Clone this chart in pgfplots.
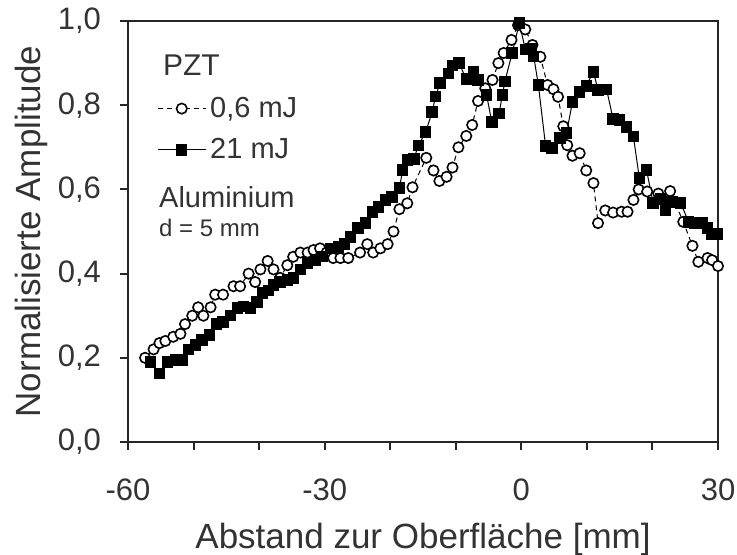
\documentclass[border=0pt]{standalone}
\usepackage{fontspec}
\setmainfont{Liberation Sans}
\usepackage{pgfplots}
\pgfplotsset{compat=1.18}
\begin{document}
\begin{tikzpicture}
\useasboundingbox (-64pt,-56pt) rectangle (304.5pt,221pt);
\begin{axis}[
  at={(0pt,0pt)}, anchor=south west,
  width=295pt, height=210.5pt, scale only axis,
  xmin=-60, xmax=30, ymin=0, ymax=1,
  xtick={-60,-30,0,30},
  xticklabels={-60,-30,0,30},
  minor xtick={-50,-40,-20,-10,10,20},
  ytick={0,0.2,0.4,0.6,0.8,1.0},
  yticklabels={{0,0},{0,2},{0,4},{0,6},{0,8},{1,0}},
  tick align=outside, tick pos=left,
  major tick length=4pt, minor tick length=4pt,
  axis line style={line width=1.3pt, black!85},
  every tick/.style={line width=1pt, black!85},
  ticklabel style={font=\fontsize{15.5}{18}\selectfont, text=black!80},
  xticklabel style={yshift=-11pt},
  yticklabel style={xshift=-6pt},
  xlabel={Abstand zur Oberfläche [mm]},
  ylabel={Normalisierte Amplitude},
  label style={font=\fontsize{17.5}{20}\selectfont, text=black!80},
  xlabel style={yshift=-4pt},
  ylabel style={yshift=-2pt},
  legend style={at={(axis cs:-55.6,0.83)}, anchor=north west, draw=none, fill=none,
    inner sep=0pt, row sep=5pt, nodes={font=\fontsize{14.5}{16}\selectfont, text=black!80}},
  legend cell align=left,
  legend image code/.code={\draw[mark repeat=2,mark phase=2] plot coordinates {(0pt,0pt) (12pt,0pt) (24pt,0pt)};},
]
\addplot[black, line width=0.5pt, dash pattern=on 2.5pt off 2pt,
  mark=*, mark size=2.6pt, mark options={solid, fill=white, draw=black, line width=0.8pt}]
coordinates {
(-57.4,0.20) (-56.1,0.22) (-55.2,0.235) (-54.3,0.24) (-53.1,0.25) (-52.0,0.257)
(-51.3,0.28) (-50.2,0.30) (-49.3,0.32) (-48.5,0.30) (-47.4,0.32) (-46.7,0.35)
(-45.5,0.35) (-43.9,0.37) (-42.9,0.37) (-41.6,0.40) (-40.6,0.38) (-39.8,0.41)
(-38.7,0.43) (-37.8,0.41) (-36.8,0.39) (-35.7,0.42) (-34.8,0.44) (-33.7,0.45)
(-32.6,0.45) (-31.7,0.456) (-30.7,0.46) (-29.7,0.45) (-28.7,0.437) (-27.6,0.437)
(-26.4,0.437) (-24.6,0.45) (-23.5,0.47) (-22.6,0.45) (-21.5,0.46) (-20.4,0.47)
(-19.5,0.50) (-18.6,0.553) (-17.4,0.567) (-16.6,0.605) (-14.5,0.675) (-13.4,0.645)
(-12.5,0.62) (-11.4,0.63) (-10.5,0.652) (-9.6,0.70) (-8.4,0.727) (-7.5,0.753)
(-6.6,0.81) (-5.5,0.84) (-4.4,0.86) (-3.5,0.90) (-2.7,0.924) (-1.5,0.955)
(-0.5,0.99) (0.6,0.98) (1.7,0.943) (2.9,0.915) (4.0,0.848) (4.9,0.838)
(5.6,0.82) (6.4,0.75) (7.0,0.705) (7.8,0.68) (8.9,0.686) (9.9,0.645)
(11.0,0.615) (11.7,0.52) (12.8,0.55) (14.0,0.545) (15.3,0.547) (16.2,0.547)
(17.1,0.575) (17.9,0.60) (19.2,0.595) (20.9,0.59) (22.7,0.596) (24.7,0.523)
(26.1,0.466) (27.0,0.428) (28.4,0.437) (29.1,0.432) (30,0.418)
};
\addlegendentry{0,6 mJ}
\addplot[black, line width=0.5pt,
  mark=square*, mark size=2.6pt, mark options={solid, fill=black}]
coordinates {
(-56.6,0.19) (-55.2,0.163) (-54.0,0.19) (-52.8,0.195) (-51.7,0.195) (-50.8,0.22)
(-49.7,0.23) (-48.7,0.242) (-47.6,0.254) (-46.5,0.28) (-45.5,0.285) (-44.4,0.30)
(-43.3,0.318) (-42.4,0.322) (-41.3,0.318) (-40.3,0.333) (-39.5,0.354) (-38.6,0.36)
(-37.8,0.373) (-36.8,0.38) (-35.7,0.385) (-34.8,0.39) (-33.7,0.41) (-32.6,0.425)
(-31.4,0.432) (-30.3,0.44) (-29.1,0.46) (-27.9,0.463) (-27.0,0.47) (-26.1,0.487)
(-24.9,0.508) (-23.8,0.52) (-22.7,0.546) (-21.8,0.558) (-20.7,0.575) (-19.7,0.582)
(-18.6,0.603) (-18.1,0.646) (-17.4,0.67) (-16.4,0.672) (-15.7,0.705) (-14.6,0.736)
(-13.6,0.784) (-13.1,0.82) (-12.4,0.853) (-11.1,0.876) (-10.5,0.895) (-9.5,0.90)
(-8.4,0.862) (-7.3,0.879) (-6.6,0.86) (-5.3,0.824) (-4.5,0.76) (-3.4,0.78)
(-2.9,0.824) (-2.5,0.857) (-1.4,0.924) (-0.3,0.995) (0.6,0.933) (1.5,0.935)
(1.9,0.915) (2.6,0.848) (3.7,0.703) (4.7,0.698) (5.9,0.722) (6.9,0.734)
(7.8,0.808) (8.9,0.831) (9.9,0.846) (11.0,0.879) (11.7,0.836) (13.0,0.838)
(14.0,0.767) (15.0,0.765) (16.0,0.748) (17.1,0.725) (18.0,0.627) (19.1,0.646)
(20.1,0.568) (21.2,0.577) (22.0,0.551) (23.0,0.57) (24.3,0.568) (25.5,0.523)
(26.5,0.52) (27.6,0.52) (28.4,0.508) (29.1,0.494) (29.9,0.494)
};
\addlegendentry{21 mJ}
\node[anchor=west, font=\fontsize{15}{17}\selectfont, text=black!80, inner sep=0pt] at (axis cs:-54.7,0.895) {PZT};
\node[anchor=west, font=\fontsize{14.5}{16}\selectfont, text=black!80, inner sep=0pt] at (axis cs:-55.3,0.582) {Aluminium};
\node[anchor=west, font=\fontsize{12}{14}\selectfont, text=black!80, inner sep=0pt] at (axis cs:-55.3,0.508) {d = 5 mm};
\end{axis}
\end{tikzpicture}
\end{document}
